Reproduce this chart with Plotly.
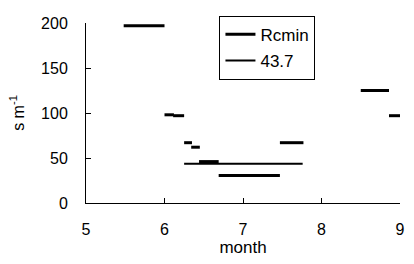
import plotly.graph_objects as go

# Rcmin step segments (month start, month end, value s m-1)
seg_start = [5.48, 6.00, 6.11, 6.25, 6.34, 6.44, 6.69, 7.47, 8.50, 8.86]
seg_end = [6.00, 6.12, 6.25, 6.35, 6.45, 6.69, 7.47, 7.77, 8.86, 9.00]
rcmin = [197, 98, 97, 67, 62, 46, 30.5, 67, 125, 97]

# reference constant line
ref_start = 6.25
ref_end = 7.76
ref_value = 43.7

x_ticks = [5, 6, 7, 8, 9]
y_ticks = [0, 50, 100, 150, 200]

xs, ys = [], []
for s, e, v in zip(seg_start, seg_end, rcmin):
    xs += [s, e, None]
    ys += [v, v, None]

FONT = "Liberation Sans"

fig = go.Figure()
fig.add_trace(go.Scatter(x=xs, y=ys, mode="lines", name="Rcmin",
                         line=dict(color="black", width=3),
                         legendgroup="a"))
fig.add_trace(go.Scatter(x=[ref_start, ref_end], y=[ref_value, ref_value],
                         mode="lines", name=str(ref_value),
                         line=dict(color="black", width=2),
                         legendgroup="b"))

fig.update_layout(
    width=414, height=264,
    margin=dict(l=86, r=14, t=23, b=61),
    paper_bgcolor="white", plot_bgcolor="white",
    font=dict(family=FONT, size=16, color="black"),
    showlegend=True,
    legend=dict(x=0.425, y=1.04, xanchor="left", yanchor="top",
                bordercolor="black", borderwidth=1, bgcolor="white",
                font=dict(size=17, family=FONT),
                tracegroupgap=1, traceorder="grouped",
                itemwidth=30, entrywidth=92, entrywidthmode="pixels"),
    xaxis=dict(range=[5, 9], tickvals=x_ticks, ticks="inside", ticklen=5,
               tickcolor="black", showline=True, linecolor="black",
               linewidth=1, showgrid=False, zeroline=False,
               ticklabelstandoff=12,
               title=dict(text="month", standoff=0, font=dict(size=17)),
               automargin=False),
    yaxis=dict(range=[0, 200], tickvals=y_ticks, ticks="inside", ticklen=5,
               tickcolor="black", showline=True, linecolor="black",
               linewidth=1, showgrid=False, zeroline=False,
               ticklabelstandoff=14,
               title=dict(text="s m<sup>-1</sup>", standoff=12,
                          font=dict(size=16)),
               automargin=False),
)

fig.write_html("out.html")
